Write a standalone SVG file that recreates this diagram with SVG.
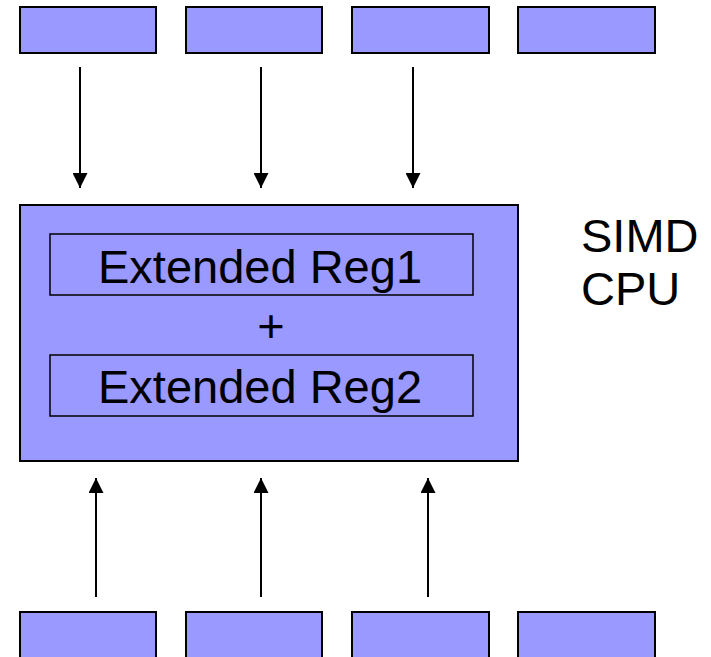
<svg xmlns="http://www.w3.org/2000/svg" width="711" height="657" viewBox="0 0 711 657">
<style>
.box{fill:#9999FF;stroke:#000;stroke-width:2}
.inner{fill:#9999FF;stroke:#000;stroke-width:1.5}
.t{font-family:"Liberation Sans",Arial,sans-serif;font-size:47px;fill:#000}
.c{stroke:#000;stroke-width:2;fill:none}
</style>
<defs>
<marker id="ah" viewBox="0 0 10 10" refX="10" refY="5" markerWidth="15" markerHeight="15" markerUnits="userSpaceOnUse" orient="auto">
<path d="M0,0 L10,5 L0,10 z" fill="#000"/>
</marker>
</defs>
<rect width="711" height="657" fill="#fff"/>
<g id="top1"><rect class="box" x="20" y="7" width="136" height="46"/></g>
<g id="top2"><rect class="box" x="186" y="7" width="136" height="46"/></g>
<g id="top3"><rect class="box" x="352" y="7" width="137" height="46"/></g>
<g id="top4"><rect class="box" x="518" y="7" width="137" height="46"/></g>
<g id="cpu">
<rect class="box" x="20" y="205" width="498" height="256"/>
<g id="reg1"><rect class="inner" x="50" y="234" width="423" height="61"/>
<text class="t" x="98" y="283">Extended Reg1</text></g>
<text class="t" x="271" y="342" text-anchor="middle">+</text>
<g id="reg2"><rect class="inner" x="50" y="355" width="423" height="61"/>
<text class="t" x="98" y="403">Extended Reg2</text></g>
</g>
<g id="label"><text class="t" x="581" y="252">SIMD</text><text class="t" x="581" y="305">CPU</text></g>
<g id="bot1"><rect class="box" x="20" y="612" width="136" height="46"/></g>
<g id="bot2"><rect class="box" x="186" y="612" width="136" height="46"/></g>
<g id="bot3"><rect class="box" x="352" y="612" width="137" height="46"/></g>
<g id="bot4"><rect class="box" x="518" y="612" width="137" height="46"/></g>
<g id="connectors">
<line class="c" x1="80" y1="67" x2="80" y2="188" marker-end="url(#ah)"/>
<line class="c" x1="261" y1="67" x2="261" y2="188" marker-end="url(#ah)"/>
<line class="c" x1="413" y1="67" x2="413" y2="188" marker-end="url(#ah)"/>
<line class="c" x1="96" y1="597" x2="96" y2="478" marker-end="url(#ah)"/>
<line class="c" x1="261" y1="597" x2="261" y2="478" marker-end="url(#ah)"/>
<line class="c" x1="428" y1="597" x2="428" y2="478" marker-end="url(#ah)"/>
</g>
</svg>
